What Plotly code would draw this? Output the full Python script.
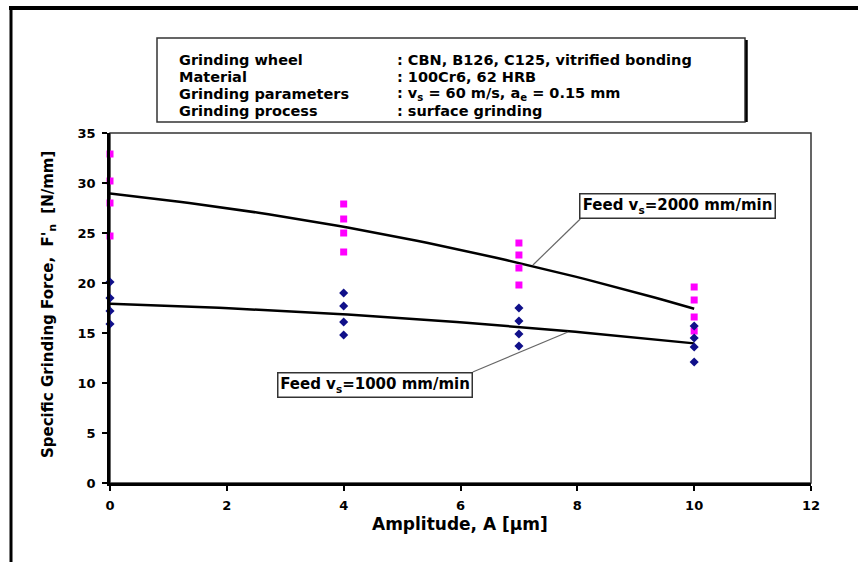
import numpy as np
import plotly.graph_objects as go

# ---- data ----
amp_2000 = [0, 0, 0, 0, 4, 4, 4, 4, 7, 7, 7, 7, 10, 10, 10, 10]
force_2000 = [32.9, 30.2, 28.0, 24.7, 27.9, 26.4, 25.0, 23.1, 24.0, 22.8, 21.5, 19.8, 19.6, 18.3, 16.6, 15.2]
amp_1000 = [0, 0, 0, 0, 4, 4, 4, 4, 7, 7, 7, 7, 10, 10, 10, 10]
force_1000 = [20.1, 18.5, 17.2, 15.9, 19.0, 17.7, 16.1, 14.8, 17.5, 16.2, 14.9, 13.7, 15.7, 14.5, 13.6, 12.1]

info_labels = ["Grinding wheel", "Material", "Grinding parameters", "Grinding process"]
info_values = [": CBN, B126, C125, vitrified bonding", ": 100Cr6, 62 HRB",
               ": v<sub>s</sub> = 60 m/s, a<sub>e</sub> = 0.15 mm", ": surface grinding"]
x_ticks = [0, 2, 4, 6, 8, 10, 12]
y_ticks = [0, 5, 10, 15, 20, 25, 30, 35]

FONT = "DejaVu Sans"
W, H = 858, 562
L, R, T, B = 110, 811, 133, 483  # plot area in pixels


def px(x):
    return (x - L) / (R - L)


def py(y):
    return (B - y) / (B - T)


def trend(xs, ys):
    c = np.polyfit(xs, ys, 2)
    xx = np.linspace(min(xs), max(xs), 60)
    return xx, np.polyval(c, xx)


fig = go.Figure()

tx, ty = trend(amp_2000, force_2000)
fig.add_trace(go.Scatter(x=tx, y=ty, mode="lines", line=dict(color="black", width=2.5),
                         showlegend=False, hoverinfo="skip"))
tx, ty = trend(amp_1000, force_1000)
fig.add_trace(go.Scatter(x=tx, y=ty, mode="lines", line=dict(color="black", width=2.5),
                         showlegend=False, hoverinfo="skip"))

fig.add_trace(go.Scatter(x=amp_2000, y=force_2000, mode="markers", cliponaxis=False,
                         marker=dict(symbol="square", size=7, color="#FF00FF"),
                         showlegend=False))
fig.add_trace(go.Scatter(x=amp_1000, y=force_1000, mode="markers", cliponaxis=False,
                         marker=dict(symbol="diamond", size=7, color="#10108A"),
                         showlegend=False))

shapes = []
# outer frame
shapes.append(dict(type="line", xref="paper", yref="paper", x0=px(9), x1=px(860),
                   y0=py(8), y1=py(8), line=dict(color="black", width=4)))
shapes.append(dict(type="line", xref="paper", yref="paper", x0=px(11), x1=px(11),
                   y0=py(7), y1=py(565), line=dict(color="black", width=3)))
# plot area border
shapes.append(dict(type="rect", xref="paper", yref="paper", x0=0, x1=1, y0=0, y1=1,
                   line=dict(color="#333333", width=1.5), layer="below"))
# info box
shapes.append(dict(type="rect", xref="paper", yref="paper", x0=px(157), x1=px(745),
                   y0=py(122), y1=py(38), line=dict(color="#333333", width=1.5),
                   fillcolor="white"))
shapes.append(dict(type="line", xref="paper", yref="paper", x0=px(746.5), x1=px(746.5),
                   y0=py(122), y1=py(40), line=dict(color="black", width=2.5)))
# leader lines
shapes.append(dict(type="line", xref="x", yref="y", x0=8.05, y0=26.4, x1=7.24, y1=21.8,
                   line=dict(color="#666666", width=1.2)))
shapes.append(dict(type="line", xref="x", yref="y", x0=6.21, y0=11.1, x1=7.84, y1=15.1,
                   line=dict(color="#666666", width=1.2)))

annotations = []
rows_y = [60, 77, 94, 111]
for lab, val, yy in zip(info_labels, info_values, rows_y):
    annotations.append(dict(xref="paper", yref="paper", x=px(177), y=py(yy), text="<b>%s</b>" % lab,
                            showarrow=False, xanchor="left", yanchor="middle",
                            font=dict(family=FONT, size=14.5, color="black")))
    annotations.append(dict(xref="paper", yref="paper", x=px(395), y=py(yy), text="<b>%s</b>" % val,
                            showarrow=False, xanchor="left", yanchor="middle",
                            font=dict(family=FONT, size=14.5, color="black")))

annotations.append(dict(xref="x", yref="y", x=9.72, y=27.75, xanchor="center", yanchor="middle",
                        text="<b>Feed v<sub>s</sub>=2000 mm/min</b>", showarrow=False,
                        width=192, height=21, borderpad=1, bordercolor="#333333", borderwidth=1.5,
                        bgcolor="white", font=dict(family=FONT, size=15, color="black")))
annotations.append(dict(xref="x", yref="y", x=4.54, y=9.85, xanchor="center", yanchor="middle",
                        text="<b>Feed v<sub>s</sub>=1000 mm/min</b>", showarrow=False,
                        width=191, height=21, borderpad=1, bordercolor="#333333", borderwidth=1.5,
                        bgcolor="white", font=dict(family=FONT, size=15, color="black")))

annotations.append(dict(xref="paper", yref="paper", x=px(48), y=py(305), textangle=-90,
                        xanchor="center", yanchor="middle",
                        text="<b>Specific Grinding Force,  F'<sub>n</sub>  [N/mm]</b>", showarrow=False,
                        font=dict(family=FONT, size=15, color="black")))
annotations.append(dict(xref="paper", yref="paper", x=px(460), y=py(524),
                        xanchor="center", yanchor="middle",
                        text="<b>Amplitude, A [µm]</b>", showarrow=False,
                        font=dict(family=FONT, size=17, color="black")))

fig.update_layout(
    width=W, height=H,
    margin=dict(l=L, r=W - R, t=T, b=H - B, pad=0),
    paper_bgcolor="white", plot_bgcolor="white",
    shapes=shapes, annotations=annotations,
    xaxis=dict(range=[0, 12], tickvals=x_ticks, ticktext=["<b>%d</b>" % v for v in x_ticks],
               showgrid=False, zeroline=False, showline=True, linecolor="black", linewidth=2.5,
               ticks="outside", ticklen=5, tickwidth=1.5, tickcolor="black", ticklabelstandoff=4,
               tickfont=dict(family=FONT, size=13, color="black"), fixedrange=True),
    yaxis=dict(range=[0, 35], tickvals=y_ticks, ticktext=["<b>%d</b>" % v for v in y_ticks],
               showgrid=False, zeroline=False, showline=True, linecolor="black", linewidth=2.5,
               ticks="outside", ticklen=5, tickwidth=1.5, tickcolor="black", ticklabelstandoff=4,
               tickfont=dict(family=FONT, size=13, color="black"), fixedrange=True),
)

fig.write_html("out.html")
